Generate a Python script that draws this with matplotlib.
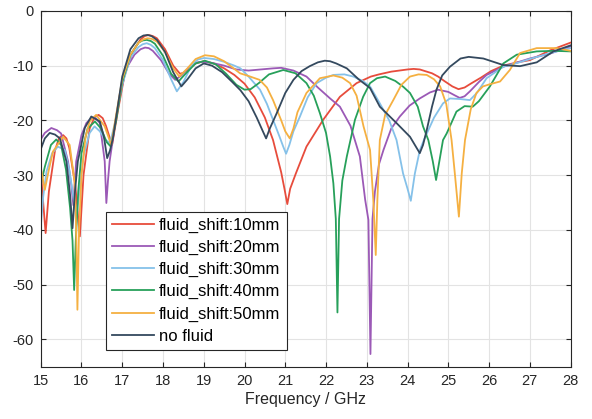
import matplotlib
matplotlib.use("Agg")
import matplotlib.pyplot as plt

plt.rcParams['font.family'] = ['Liberation Sans', 'DejaVu Sans']
plt.rcParams['axes.unicode_minus'] = False

# ---------------- data ----------------
f_10 = [15.0, 15.06, 15.12, 15.2, 15.35, 15.45, 15.55, 15.63, 15.7, 15.85, 15.96, 16.05, 16.2, 16.32, 16.42,
        16.52, 16.6, 16.75, 16.9, 17.05, 17.25, 17.45, 17.55, 17.65, 17.75, 17.85, 18.05, 18.15, 18.25,
        18.42, 18.5, 18.6, 18.7, 18.8, 19.0, 19.25, 19.5, 19.75, 20.0, 20.25, 20.5, 20.7, 20.9, 20.98,
        21.05, 21.12, 21.26, 21.52, 21.93, 22.34, 22.75, 23.1, 23.3, 23.6, 24.0, 24.15, 24.3, 24.6,
        24.75, 24.9, 25.1, 25.25, 25.4, 25.55, 25.8, 26.05, 26.35, 26.7, 27.0, 27.5, 28.0]
s_10 = [-29.0, -35.0, -40.6, -33.0, -25.5, -23.2, -22.7, -23.3, -25.0, -32.0, -41.2, -30.0, -21.5, -19.4, -19.0,
        -19.6, -21.0, -24.5, -18.0, -12.0, -7.5, -5.2, -4.6, -4.4, -4.6, -5.0, -7.0, -8.5, -10.0,
        -11.5, -11.3, -10.8, -10.1, -9.6, -9.2, -9.6, -10.5, -11.7, -13.3, -15.8, -19.5, -23.6, -29.5, -32.5,
        -35.3, -32.5, -29.7, -24.8, -19.9, -15.7, -13.2, -12.0, -11.6, -11.1, -10.7, -10.6, -10.7, -11.4,
        -12.0, -12.8, -13.8, -14.3, -14.0, -13.3, -12.2, -11.0, -10.0, -9.4, -9.0, -7.2, -5.8]

f_20 = [15.0, 15.1, 15.26, 15.4, 15.5, 15.67, 15.75, 15.8, 15.87, 16.0, 16.12, 16.24, 16.35, 16.45,
        16.57, 16.61, 16.65, 16.69, 16.81, 16.94, 17.1, 17.3, 17.45, 17.56, 17.65, 17.75, 17.95, 18.15,
        18.3, 18.45, 18.65, 18.85, 19.0, 19.2, 19.5, 19.8, 20.1, 20.4, 20.7, 20.9, 21.2, 21.52, 21.8,
        22.1, 22.34, 22.6, 22.83, 22.96, 23.04, 23.09, 23.14, 23.2, 23.3, 23.41, 23.6, 23.81, 24.05,
        24.3, 24.55, 24.75, 25.0, 25.15, 25.28, 25.4, 25.53, 25.75, 25.94, 26.35, 26.7, 27.0, 27.5, 28.0]
s_20 = [-23.5, -22.3, -21.4, -21.8, -22.4, -27.5, -31.8, -35.5, -27.5, -22.7, -20.5, -19.6, -19.6, -20.5,
        -27.5, -35.1, -31.0, -27.5, -21.4, -15.4, -10.5, -8.0, -7.0, -6.7, -6.8, -7.3, -9.0, -11.5,
        -12.6, -11.8, -10.2, -9.4, -9.3, -9.5, -10.0, -10.7, -10.9, -10.7, -10.5, -10.4, -10.9, -12.0, -14.0,
        -16.0, -17.5, -21.0, -26.6, -34.5, -38.2, -62.7, -38.0, -33.0, -28.0, -25.4, -21.5, -19.3, -17.3,
        -16.0, -14.9, -14.4, -14.8, -15.4, -15.9, -15.6, -14.7, -13.0, -11.7, -10.2, -9.4, -8.7, -7.8, -6.5]

f_30 = [15.0, 15.06, 15.14, 15.28, 15.42, 15.59, 15.71, 15.8, 15.88, 15.95, 16.05, 16.2, 16.32, 16.45,
        16.58, 16.7, 16.82, 17.0, 17.2, 17.4, 17.5, 17.6, 17.7, 17.8, 18.0, 18.2, 18.34, 18.5, 18.7,
        18.85, 19.01, 19.25, 19.5, 19.75, 19.9, 20.1, 20.38, 20.55, 20.7, 20.85, 20.95, 21.02, 21.1, 21.2,
        21.36, 21.55, 21.77, 22.0, 22.18, 22.45, 22.67, 22.9, 23.08, 23.32, 23.55, 23.73, 23.89, 24.0,
        24.08, 24.18, 24.3, 24.4, 24.65, 24.87, 25.04, 25.28, 25.53, 25.7, 25.94, 26.35, 26.7, 27.0,
        27.5, 28.0]
s_30 = [-39.5, -34.0, -29.4, -26.0, -24.8, -25.4, -29.4, -34.0, -37.5, -33.0, -26.5, -22.3, -21.1, -22.0,
        -23.5, -24.2, -20.5, -13.5, -8.5, -6.6, -6.1, -5.9, -6.2, -6.8, -9.0, -12.5, -14.7, -13.0, -10.0,
        -8.9, -8.6, -8.8, -9.3, -10.0, -10.5, -12.0, -14.4, -17.0, -19.9, -22.8, -24.8, -26.1, -24.5, -22.0,
        -19.3, -15.8, -13.2, -12.2, -11.7, -11.6, -12.0, -12.8, -13.8, -16.9, -20.0, -23.6, -29.7, -32.5,
        -34.7, -29.7, -25.5, -23.6, -19.5, -16.9, -16.0, -16.1, -16.3, -15.0, -12.3, -10.2, -9.5, -8.8,
        -7.7, -6.8]

f_40 = [15.0, 15.1, 15.25, 15.38, 15.5, 15.62, 15.72, 15.78, 15.82, 15.86, 15.92, 16.0, 16.15, 16.33,
        16.48, 16.62, 16.72, 16.85, 17.0, 17.2, 17.4, 17.5, 17.6, 17.7, 17.8, 18.0, 18.2, 18.38, 18.55,
        18.8, 19.03, 19.3, 19.55, 19.8, 20.0, 20.15, 20.35, 20.6, 20.95, 21.25, 21.52, 21.7, 21.85, 22.0,
        22.1, 22.18, 22.24, 22.28, 22.32, 22.4, 22.51, 22.71, 22.91, 23.08, 23.25, 23.45, 23.7, 23.9,
        24.06, 24.25, 24.38, 24.51, 24.62, 24.7, 24.78, 24.87, 24.96, 25.2, 25.4, 25.6, 25.75, 26.02,
        26.35, 26.68, 27.17, 27.6, 28.0]
s_40 = [-31.8, -28.5, -24.5, -23.5, -24.5, -29.0, -36.0, -42.0, -51.0, -42.0, -33.0, -26.0, -21.5, -20.2,
        -21.5, -24.0, -24.8, -20.0, -13.0, -8.0, -5.8, -5.4, -5.3, -5.5, -6.0, -8.2, -11.5, -12.9, -11.5,
        -9.6, -9.1, -9.8, -11.5, -13.5, -14.4, -14.3, -13.2, -11.6, -10.8, -11.4, -13.2, -15.5, -18.7, -22.3,
        -26.6, -31.5, -38.0, -55.1, -38.0, -31.0, -26.6, -19.9, -15.7, -13.2, -12.3, -12.0, -12.8, -13.9,
        -15.0, -17.5, -21.1, -23.6, -27.5, -30.9, -27.5, -23.6, -22.4, -18.4, -17.4, -17.5, -16.5, -13.8,
        -9.6, -8.0, -7.4, -7.3, -7.4]

f_50 = [15.0, 15.1, 15.2, 15.3, 15.55, 15.71, 15.83, 15.87, 15.9, 15.94, 16.0, 16.1, 16.2, 16.36,
        16.57, 16.73, 16.85, 17.0, 17.2, 17.4, 17.52, 17.62, 17.72, 17.85, 18.05, 18.25, 18.4, 18.6, 18.8,
        19.03, 19.25, 19.5, 19.75, 19.89, 20.1, 20.37, 20.55, 20.7, 20.9, 21.0, 21.11, 21.2, 21.3, 21.52,
        21.85, 22.18, 22.4, 22.59, 22.75, 22.92, 23.08, 23.16, 23.22, 23.26, 23.32, 23.45, 23.65, 23.85,
        24.06, 24.27, 24.47, 24.65, 24.8, 24.95, 25.08, 25.16, 25.26, 25.33, 25.41, 25.55, 25.69, 25.85,
        26.02, 26.27, 26.51, 26.76, 27.17, 27.66, 28.0]
s_50 = [-28.5, -32.7, -29.0, -25.7, -23.0, -24.5, -31.2, -40.0, -54.6, -40.0, -30.0, -23.0, -20.2, -19.0,
        -21.1, -24.5, -19.0, -12.5, -8.0, -5.8, -5.2, -5.0, -5.1, -5.6, -7.5, -10.5, -12.0, -10.5, -8.8,
        -8.1, -8.3, -9.2, -10.6, -11.4, -11.9, -12.6, -14.0, -16.3, -20.0, -22.0, -23.3, -21.5, -18.5, -15.0,
        -12.3, -11.8, -12.2, -13.2, -15.5, -21.1, -25.4, -34.5, -44.6, -34.5, -23.6, -19.0, -16.3, -13.5,
        -12.0, -11.6, -11.7, -12.5, -13.8, -17.0, -23.6, -29.7, -37.6, -29.7, -23.6, -18.0, -15.0, -13.8,
        -13.4, -12.9, -10.8, -7.7, -6.8, -6.8, -7.3]

f_0 = [15.0, 15.1, 15.22, 15.35, 15.47, 15.63, 15.72, 15.78, 15.84, 15.91, 16.08, 16.24, 16.45, 16.55,
       16.63, 16.7, 16.77, 16.88, 17.0, 17.2, 17.4, 17.52, 17.62, 17.72, 17.85, 18.05, 18.25, 18.45,
       18.6, 18.8, 19.0, 19.2, 19.45, 19.7, 19.9, 20.1, 20.3, 20.45, 20.53, 20.62, 20.79, 21.0, 21.2,
       21.4, 21.6, 21.8, 21.97, 22.1, 22.25, 22.51, 22.8, 23.08, 23.32, 23.73, 24.06, 24.22, 24.3, 24.38,
       24.47, 24.6, 24.71, 24.85, 25.04, 25.3, 25.5, 25.86, 26.35, 26.76, 27.17, 27.58, 28.0]
s_0 = [-25.3, -23.3, -22.3, -22.6, -23.3, -27.5, -33.6, -39.7, -33.0, -27.5, -21.4, -19.3, -20.2, -23.0,
       -26.9, -25.5, -23.3, -18.0, -12.0, -7.0, -5.0, -4.5, -4.4, -4.6, -5.3, -7.5, -11.2, -13.8,
       -12.5, -10.5, -9.6, -10.0, -11.2, -13.0, -14.5, -16.5, -19.5, -22.0, -23.3, -21.5, -18.7, -15.0, -12.6,
       -11.0, -10.1, -9.4, -9.1, -9.2, -9.6, -10.5, -12.5, -14.1, -17.5, -20.5, -23.0, -25.0, -26.0, -24.5,
       -21.8, -17.5, -14.4, -11.8, -10.2, -8.7, -8.4, -8.7, -9.9, -10.1, -9.4, -7.4, -6.3]

labels = ['fluid_shift:10mm', 'fluid_shift:20mm', 'fluid_shift:30mm',
          'fluid_shift:40mm', 'fluid_shift:50mm', 'no fluid']
colors = ['#E74C3C', '#9B59B6', '#85C1E9', '#27A05A', '#F5B041', '#34495E']
xticks = list(range(15, 29))
yticks = [0, -10, -20, -30, -40, -50, -60]

series = [(f_10, s_10), (f_20, s_20), (f_30, s_30), (f_40, s_40), (f_50, s_50), (f_0, s_0)]

# ---------------- figure ----------------
fig = plt.figure(figsize=(5.92, 4.19), dpi=100)
ax = fig.add_axes([0.0688, 0.125, 0.895, 0.849])

for (fx, sy), lab, c in zip(series, labels, colors):
    ax.plot(fx, sy, color=c, lw=1.3, label=lab, solid_joinstyle='round')

axc = '#262626'
ax.set_xlim(15, 28)
ax.set_ylim(-65, 0)
ax.set_xticks(xticks)
ax.set_yticks(yticks)
ax.tick_params(direction='in', length=3.5, width=0.8, colors=axc, labelsize=10.5,
               top=True, right=True, pad=5)
ax.tick_params(axis='y', labelright=False)
for sp in ax.spines.values():
    sp.set_color(axc)
    sp.set_linewidth(0.8)
ax.grid(True, color='#E3E3E3', lw=0.8)
ax.set_axisbelow(True)
ax.set_xlabel('Frequency / GHz', fontsize=11.5, color=axc, labelpad=3)

leg = ax.legend(loc='lower left', bbox_to_anchor=(0.1226, 0.047), fontsize=12,
                frameon=True, fancybox=False, edgecolor=axc, framealpha=1,
                handlelength=2.5, handletextpad=0.3, labelspacing=0.42,
                borderpad=0.38, borderaxespad=0)
leg.get_frame().set_linewidth(0.8)

fig.savefig('out.png', dpi=100)
